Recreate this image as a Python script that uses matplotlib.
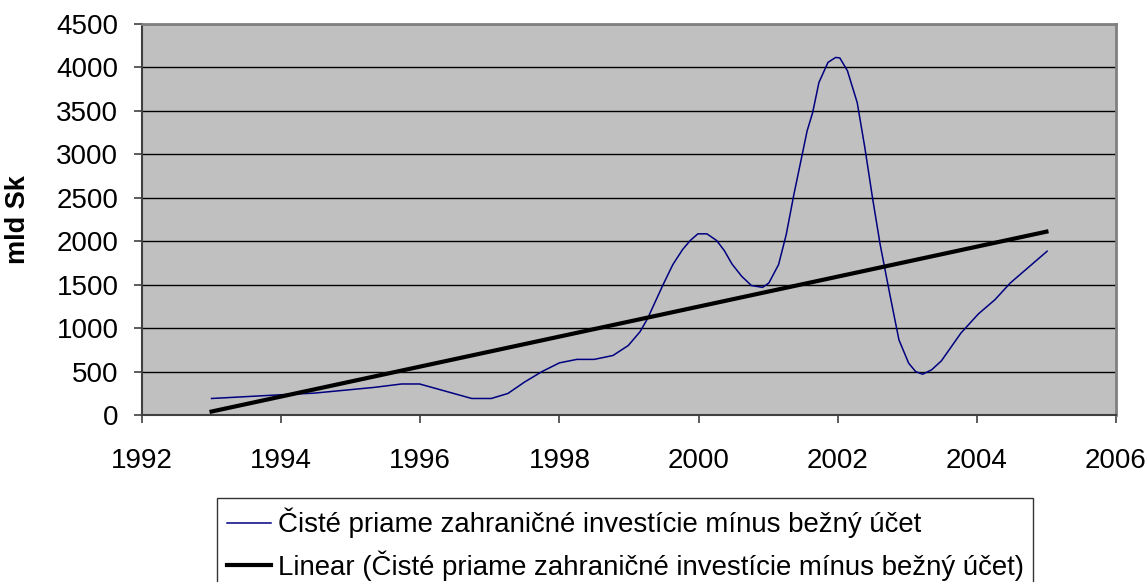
import matplotlib.pyplot as plt
import numpy as np

plt.rcParams['font.family'] = ['Liberation Sans', 'DejaVu Sans']

# series (decimal year, mld Sk)
years = [1993.0, 1994.0, 1994.48, 1995.34, 1995.73, 1995.99, 1996.74, 1997.02,
         1997.26, 1997.5, 1997.75, 1998.0, 1998.25, 1998.5, 1998.77, 1998.99,
         1999.16, 1999.27, 1999.38, 1999.49, 1999.63, 1999.77, 1999.88, 1999.99,
         2000.12, 2000.26, 2000.37, 2000.48, 2000.62, 2000.76, 2000.92, 2001.01,
         2001.15, 2001.26, 2001.37, 2001.56, 2001.64, 2001.73, 2001.86, 2001.97,
         2002.03, 2002.14, 2002.28, 2002.39, 2002.5, 2002.61, 2002.75, 2002.88,
         2003.02, 2003.12, 2003.22, 2003.35, 2003.49, 2003.77, 2004.02, 2004.26,
         2004.48, 2005.01]
values = [190, 233, 252, 318, 357, 357, 190, 190,
          248, 380, 500, 600, 640, 640, 685, 800,
          960, 1115, 1308, 1500, 1731, 1904, 2008, 2085,
          2085, 2008, 1892, 1738, 1596, 1490, 1469, 1519,
          1731, 2077, 2538, 3269, 3481, 3827, 4058, 4115,
          4110, 3961, 3596, 3077, 2500, 1962, 1385, 865,
          596, 500, 469, 520, 623, 942, 1162, 1327,
          1519, 1885]

# linear trend end points
trend_years = [1993, 2005]
trend_values = [40, 2110]

series_label = 'Čisté priame zahraničné investície mínus bežný účet'
trend_label = 'Linear (Čisté priame zahraničné investície mínus bežný účet)'

fig = plt.figure(figsize=(11.46, 5.82), dpi=100)
ax = fig.add_axes([142 / 1146, 1 - 415 / 582, (1116 - 142) / 1146, (415 - 24) / 582])
ax.set_facecolor('#C0C0C0')

ax.plot(years, values, color='#000080', lw=1.1, label=series_label, zorder=3)
ax.plot(trend_years, trend_values, color='black', lw=3, label=trend_label, zorder=4)

ax.set_xlim(1992, 2006)
ax.set_ylim(0, 4500)
ax.set_xticks(np.arange(1992, 2007, 2))
ax.set_yticks(np.arange(0, 4501, 500))
ax.yaxis.grid(True, color='black', lw=1)
ax.set_axisbelow(True)

for s in ['top', 'right']:
    ax.spines[s].set_color('#808080')
    ax.spines[s].set_linewidth(2)
for s in ['left', 'bottom']:
    ax.spines[s].set_color('#404040')
    ax.spines[s].set_linewidth(1.5)

ax.tick_params(axis='both', direction='out', length=6, width=1.2, color='#404040',
               labelsize=20, labelcolor='black')
ax.tick_params(axis='x', pad=18)
ax.tick_params(axis='y', pad=11)

ax.set_ylabel('mld Sk', fontsize=19.5, fontweight='bold', labelpad=18)

leg = fig.legend(loc='upper left', bbox_to_anchor=(217 / 1146, 1 - 498 / 582),
                 fontsize=19.9, frameon=True, fancybox=False, handlelength=1.6,
                 handletextpad=0.25, borderpad=0.35, labelspacing=0.45,
                 borderaxespad=0)
leg.get_frame().set_edgecolor('black')
leg.get_frame().set_linewidth(1)

fig.savefig('out.png', dpi=100)
